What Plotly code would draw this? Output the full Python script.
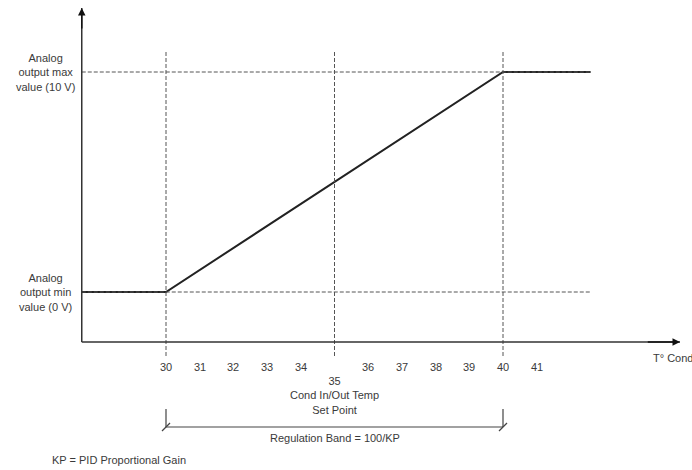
import plotly.graph_objects as go

# ---- data ----
temp_ticks = [30, 31, 32, 33, 34, 36, 37, 38, 39, 40, 41]
setpoint = 35
band_start = 30
band_end = 40
curve_x = [27.5, 30, 40, 42.6]
curve_y = [0, 0, 10, 10]
out_min = 0
out_max = 10
y_label_max = "Analog<br>output max<br>value (10 V)"
y_label_min = "Analog<br>output min<br>value (0 V)"
x_title = "T° Cond"
setpoint_label = "35<br>Cond In/Out Temp<br>Set Point"
band_label = "Regulation Band = 100/KP"
kp_note = "KP = PID Proportional Gain"

# ---- layout helpers (pixel -> data) ----
PXU_X = 33.7
PXU_Y = 22.0
X0 = 30 - 166 / PXU_X
Y0 = 10 + 72 / PXU_Y
W, H = 692, 470


def dx(px):
    return X0 + px / PXU_X


def dy(py):
    return Y0 - py / PXU_Y


axis_x = curve_x[0]
axis_y = dy(342)
x_end = dx(680)
y_top = dy(8)
dash_right = dx(590)

TXT = "#3a3a3a"
FONT = dict(family="Liberation Sans, Arial, sans-serif", size=11, color=TXT)

fig = go.Figure()

# main response curve
fig.add_trace(go.Scatter(x=curve_x, y=curve_y, mode="lines",
                         line=dict(color="#222222", width=2),
                         hoverinfo="skip", showlegend=False))

shapes = []
# horizontal dashed reference lines
for lvl in (out_min, out_max):
    shapes.append(dict(type="line", xref="x", yref="y", x0=axis_x, x1=dash_right,
                       y0=lvl, y1=lvl, line=dict(color="#555555", width=1, dash="4px,2px")))
# vertical dashed lines
for xv in (band_start, setpoint, band_end):
    shapes.append(dict(type="line", xref="x", yref="y", x0=xv, x1=xv,
                       y0=dy(52), y1=dy(358), line=dict(color="#555555", width=1, dash="4px,2px")))
# axes lines
shapes.append(dict(type="line", xref="x", yref="y", x0=axis_x, x1=axis_x, y0=axis_y, y1=y_top,
                   line=dict(color="#333333", width=1.5)))
shapes.append(dict(type="line", xref="x", yref="y", x0=axis_x, x1=x_end, y0=axis_y, y1=axis_y,
                   line=dict(color="#333333", width=1.5)))
# regulation band bracket
by = dy(427)
shapes.append(dict(type="line", xref="x", yref="y", x0=band_start, x1=band_end, y0=by, y1=by,
                   line=dict(color="#444444", width=1.2)))
for xv in (band_start, band_end):
    shapes.append(dict(type="line", xref="x", yref="y", x0=xv, x1=xv, y0=dy(409), y1=by,
                       line=dict(color="#444444", width=1.2)))
    shapes.append(dict(type="line", xref="x", yref="y", x0=xv - 4 / PXU_X, x1=xv + 4 / PXU_X,
                       y0=by - 4 / PXU_Y, y1=by + 4 / PXU_Y,
                       line=dict(color="#444444", width=1.2)))

ann = []
# arrowheads
ann.append(dict(x=x_end, y=axis_y, ax=x_end - 1, ay=axis_y, xref="x", yref="y",
                axref="x", ayref="y", text="", showarrow=True, arrowhead=2,
                arrowsize=1, arrowwidth=1.5, arrowcolor="#111111"))
ann.append(dict(x=axis_x, y=y_top, ax=axis_x, ay=y_top - 1, xref="x", yref="y",
                axref="x", ayref="y", text="", showarrow=True, arrowhead=2,
                arrowsize=1, arrowwidth=1.5, arrowcolor="#111111"))
# tick labels
for t in temp_ticks:
    ann.append(dict(x=t, y=dy(367), xref="x", yref="y", text=str(t), showarrow=False,
                    font=FONT, xanchor="center", yanchor="middle"))
ann.append(dict(x=setpoint, y=dy(373), xref="x", yref="y", text=setpoint_label,
                showarrow=False, font=FONT, xanchor="center", yanchor="top", align="center"))
ann.append(dict(x=dx(651), y=dy(358), xref="x", yref="y", text=x_title, showarrow=False,
                font=FONT, xanchor="left", yanchor="middle"))
ann.append(dict(x=dx(45), y=out_max, xref="x", yref="y", text=y_label_max, showarrow=False,
                font=FONT, xanchor="center", yanchor="middle", align="center"))
ann.append(dict(x=dx(45), y=out_min, xref="x", yref="y", text=y_label_min, showarrow=False,
                font=FONT, xanchor="center", yanchor="middle", align="center"))
ann.append(dict(x=(band_start + band_end) / 2, y=dy(438), xref="x", yref="y", text=band_label,
                showarrow=False, font=FONT, xanchor="center", yanchor="middle"))
ann.append(dict(x=dx(50), y=dy(460), xref="x", yref="y", text=kp_note, showarrow=False,
                font=FONT, xanchor="left", yanchor="middle"))

fig.update_layout(
    width=W, height=H,
    margin=dict(l=0, r=0, t=0, b=0),
    paper_bgcolor="white", plot_bgcolor="white",
    xaxis=dict(range=[dx(0), dx(W)], visible=False, fixedrange=True),
    yaxis=dict(range=[dy(H), dy(0)], visible=False, fixedrange=True),
    shapes=shapes, annotations=ann, showlegend=False,
)

fig.write_html("out.html", config={"displayModeBar": False},
               post_script="document.body.style.margin='0';document.body.style.overflow='hidden';")
